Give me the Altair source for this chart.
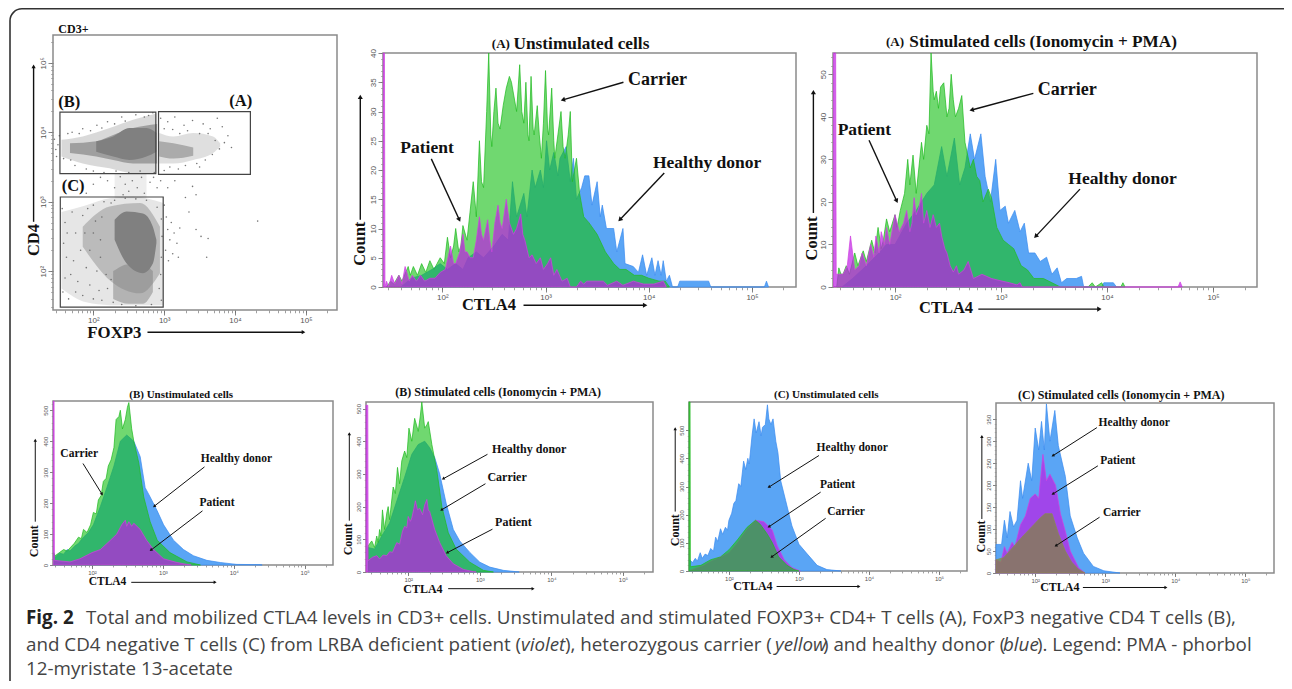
import math
import altair as alt
import pandas as pd

# ---------- values: (log10 CTLA4, count) ----------
A1_CARRIER = [(1.46,0),(1.5,1),(1.53,0.5),(1.58,2),(1.61,1),(1.67,3.5),(1.69,2),(1.72,3.5),(1.76,2),(1.8,4),(1.84,2.5),(1.88,4.5),(1.92,3),(1.95,4),(1.98,5),(2.02,4),(2.05,8.5),(2.08,5),(2.11,7),(2.13,10),(2.16,6),(2.18,7),(2.2,10.5),(2.24,8),(2.27,13),(2.3,18),(2.33,12),(2.36,25),(2.38,18),(2.40,17),(2.43,30),(2.45,40),(2.47,26),(2.48,24),(2.5,30),(2.52,34),(2.54,28),(2.56,27),(2.59,31),(2.62,34),(2.65,36),(2.67,35),(2.69,33),(2.72,30),(2.75,38),(2.77,30),(2.79,28),(2.81,35),(2.83,26),(2.84,25),(2.86,36),(2.88,27),(2.89,26),(2.92,31),(2.94,26),(2.96,22),(2.98,28),(3.0,37),(3.02,27),(3.03,26),(3.06,34),(3.08,25),(3.09,22),(3.12,26),(3.15,30),(3.17,24),(3.19,22),(3.22,26),(3.24,30),(3.26,18),(3.28,20),(3.30,22),(3.33,16),(3.37,12),(3.42,11),(3.5,9),(3.58,6),(3.66,4),(3.72,3),(3.78,3),(3.86,2),(3.93,2),(4.0,1.5),(4.1,1),(4.16,1),(4.2,0)]
A1_HEALTHY = [(1.6,0),(1.7,1.5),(1.8,2),(1.9,3),(1.98,4),(2.05,3),(2.13,4),(2.2,3),(2.25,5),(2.33,6),(2.4,5),(2.5,7),(2.58,9),(2.64,8),(2.68,18),(2.72,12),(2.79,16),(2.82,12),(2.87,20),(2.9,17),(2.95,20),(2.98,17),(3.01,25),(3.04,20),(3.08,23),(3.12,19),(3.14,22),(3.2,24),(3.24,18),(3.27,22),(3.3,15),(3.35,17),(3.38,19),(3.42,19),(3.45,14),(3.5,18),(3.53,12),(3.55,14),(3.59,10),(3.66,10),(3.69,6),(3.75,10),(3.77,4),(3.85,3.5),(3.9,2.5),(3.94,5.5),(3.98,2),(4.03,5),(4.06,2),(4.09,4.5),(4.12,2),(4.14,4.5),(4.17,1),(4.2,2),(4.23,0),(4.28,0),(4.3,1),(4.37,1),(4.48,1),(4.58,1),(4.6,0),(5.12,0),(5.14,1),(5.16,0)]
A1_PATIENT = [(1.43,40),(1.44,40),(1.445,0),(1.46,1),(1.48,0),(1.51,2),(1.54,0.5),(1.58,2),(1.61,0.5),(1.64,3.5),(1.68,1),(1.71,2),(1.75,1),(1.79,2),(1.83,1),(1.88,1.5),(1.93,1.5),(1.98,2.5),(2.03,3),(2.08,7),(2.11,4),(2.13,4),(2.17,6),(2.2,9),(2.22,6),(2.24,6),(2.27,5),(2.3,5),(2.33,8),(2.36,12),(2.38,9),(2.4,8),(2.44,11.5),(2.46,8),(2.48,6),(2.51,11),(2.54,14),(2.56,11),(2.58,10),(2.62,15),(2.65,11),(2.69,9),(2.72,10),(2.76,12.5),(2.78,9),(2.8,8),(2.84,5),(2.87,5.5),(2.91,4),(2.95,5),(2.98,3),(3.02,4),(3.05,5),(3.08,2),(3.11,3),(3.16,1),(3.21,1.5),(3.24,0),(3.3,0),(3.34,1),(3.37,0.5),(3.4,1),(3.5,1),(3.56,1),(3.6,0.3),(3.69,1),(3.75,0.3),(3.85,1),(3.95,0.5),(4.05,0.5),(4.14,1),(4.17,0)]

A2_CARRIER = [(1.45,0),(1.47,4.5),(1.49,3),(1.51,3),(1.54,5),(1.57,3),(1.62,8),(1.65,5),(1.7,8.5),(1.73,6),(1.78,11),(1.81,8),(1.84,14),(1.87,9),(1.89,11),(1.92,16),(1.95,13),(2,17),(2.02,14),(2.05,18),(2.09,22),(2.12,30),(2.14,24),(2.17,31),(2.2,22),(2.25,34),(2.27,30),(2.3,38),(2.32,36),(2.34,55),(2.36,46),(2.37,44),(2.39,46),(2.41,42),(2.43,47),(2.46,48),(2.49,40),(2.51,42),(2.53,50),(2.55,44),(2.57,40),(2.6,42),(2.63,45),(2.66,34),(2.71,28),(2.74,30),(2.77,26),(2.8,25),(2.83,20),(2.88,23),(2.91,21),(2.96,14),(3.02,11),(3.07,10),(3.12,9),(3.19,5),(3.25,4),(3.31,2),(3.4,2),(3.48,1),(3.56,0),(3.82,0),(3.86,1),(3.89,0),(3.95,1),(3.97,0),(4.13,0),(4.15,1),(4.17,0)]
A2_HEALTHY = [(1.5,0),(1.6,2),(1.73,5),(1.85,8),(1.92,10),(2,10),(2.11,15),(2.2,18),(2.3,22),(2.37,24),(2.44,33),(2.49,26),(2.56,35),(2.61,24),(2.66,28),(2.71,36),(2.75,30),(2.81,36),(2.85,26),(2.9,20),(2.95,30),(2.99,18),(3.04,19),(3.07,15),(3.13,18),(3.18,13),(3.22,15),(3.26,8),(3.32,8),(3.37,6),(3.43,7),(3.48,3),(3.53,4.5),(3.57,1),(3.62,2),(3.71,2),(3.76,2.5),(3.78,0),(3.95,0),(3.97,1),(4.06,1),(4.09,0)]
A2_PATIENT = [(1.42,55),(1.44,55),(1.445,3),(1.47,3),(1.51,3),(1.55,5),(1.58,12),(1.62,4),(1.66,5),(1.69,8),(1.73,5),(1.77,10),(1.8,7),(1.82,12),(1.85,8),(1.87,13),(1.9,10),(1.92,14),(1.95,10),(2,17),(2.04,13),(2.08,15),(2.11,18),(2.14,13),(2.16,15),(2.18,21),(2.2,17),(2.23,19),(2.25,22),(2.27,15),(2.3,18),(2.33,14),(2.36,17),(2.39,14),(2.42,15),(2.44,12),(2.47,9),(2.49,8),(2.52,5),(2.55,3.5),(2.58,5),(2.6,3),(2.65,4),(2.69,6),(2.74,2),(2.82,3),(2.91,2),(2.99,1.5),(3.08,1),(3.15,0.5),(3.18,1),(3.2,0),(4.67,0),(4.69,1.2),(4.71,0)]

B1_CARRIER = [(1.46,40),(1.48,30),(1.54,40),(1.6,50),(1.65,45),(1.69,55),(1.75,70),(1.81,90),(1.85,85),(1.88,115),(1.93,105),(1.98,130),(2.02,170),(2.06,165),(2.09,210),(2.13,225),(2.16,270),(2.2,280),(2.23,320),(2.27,340),(2.31,380),(2.34,470),(2.38,480),(2.4,500),(2.43,440),(2.47,470),(2.5,510),(2.52,525),(2.56,440),(2.59,400),(2.66,330),(2.73,220),(2.82,140),(2.92,80),(3.1,40),(3.34,10),(3.53,0)]
B1_HEALTHY = [(1.46,35),(1.48,25),(1.54,38),(1.6,35),(1.65,50),(1.69,45),(1.75,60),(1.81,70),(1.88,90),(1.95,105),(2.02,130),(2.12,190),(2.21,250),(2.31,320),(2.4,400),(2.49,420),(2.59,400),(2.68,350),(2.75,250),(2.82,220),(2.92,175),(3.01,130),(3.15,80),(3.29,50),(3.43,30),(3.62,15),(3.81,8),(4.04,2),(4.37,1),(4.4,0)]
B1_PATIENT = [(1.455,530),(1.465,530),(1.47,15),(1.69,10),(1.83,20),(2.0,40),(2.12,50),(2.26,80),(2.35,100),(2.42,130),(2.47,145),(2.49,125),(2.52,140),(2.56,125),(2.59,135),(2.68,115),(2.77,80),(2.87,50),(3.01,20),(3.2,8),(3.34,2),(3.4,0)]

B2_CARRIER = [(1.44,80),(1.49,95),(1.53,75),(1.56,110),(1.58,90),(1.6,130),(1.62,110),(1.64,190),(1.67,130),(1.7,180),(1.72,200),(1.74,160),(1.79,260),(1.82,240),(1.85,320),(1.88,270),(1.91,340),(1.95,370),(1.98,350),(2.01,440),(2.05,400),(2.09,470),(2.14,430),(2.17,480),(2.19,520),(2.23,440),(2.26,450),(2.28,460),(2.33,390),(2.4,310),(2.47,200),(2.56,120),(2.67,70),(2.86,30),(3.05,5),(3.19,0)]
B2_HEALTHY = [(1.44,75),(1.53,70),(1.63,110),(1.74,150),(1.86,230),(1.95,290),(2.05,360),(2.14,390),(2.23,400),(2.3,380),(2.37,350),(2.44,300),(2.53,210),(2.63,130),(2.72,95),(2.86,60),(3.0,30),(3.14,15),(3.33,5),(3.51,1),(3.55,0)]
B2_PATIENT = [(1.41,510),(1.435,510),(1.44,35),(1.5,45),(1.56,50),(1.6,40),(1.65,52),(1.7,50),(1.74,62),(1.78,60),(1.84,90),(1.88,85),(1.92,125),(1.95,140),(1.98,135),(2,170),(2.03,155),(2.05,165),(2.08,195),(2.1,218),(2.13,190),(2.16,195),(2.2,175),(2.23,205),(2.26,222),(2.28,190),(2.3,185),(2.37,130),(2.44,90),(2.53,50),(2.63,25),(2.77,8),(2.91,1),(2.95,0)]

C1_HEALTHY = [(1.44,40),(1.48,30),(1.52,45),(1.55,35),(1.59,65),(1.62,45),(1.66,60),(1.7,55),(1.74,80),(1.78,70),(1.81,120),(1.84,105),(1.88,150),(1.91,130),(1.95,155),(1.98,145),(2,180),(2.04,205),(2.07,240),(2.1,250),(2.14,310),(2.17,300),(2.21,390),(2.24,360),(2.27,400),(2.29,380),(2.33,480),(2.36,540),(2.39,490),(2.43,530),(2.46,480),(2.48,510),(2.52,520),(2.55,590),(2.57,540),(2.6,520),(2.63,540),(2.67,460),(2.7,420),(2.74,320),(2.81,250),(2.9,160),(3,95),(3.12,60),(3.26,20),(3.4,5),(3.6,0)]
C1_PATIENT = [(1.45,3),(1.64,20),(1.74,35),(1.88,50),(2,65),(2.12,100),(2.26,150),(2.38,180),(2.5,175),(2.62,145),(2.69,90),(2.79,40),(2.9,12),(3.02,0)]
C1_CARRIER = [(1.43,600),(1.445,600),(1.45,15),(1.6,20),(1.74,40),(1.88,50),(2,75),(2.12,110),(2.26,155),(2.38,180),(2.45,165),(2.55,130),(2.62,100),(2.71,50),(2.83,20),(2.93,5),(3,0)]

C2_HEALTHY = [(1.44,65),(1.52,65),(1.56,120),(1.6,80),(1.64,140),(1.69,105),(1.74,120),(1.79,210),(1.82,170),(1.9,250),(1.95,210),(2,330),(2.05,280),(2.09,345),(2.13,280),(2.16,385),(2.21,300),(2.28,370),(2.33,290),(2.43,220),(2.5,130),(2.6,80),(2.69,45),(2.83,15),(2.98,5),(3.21,0)]
C2_PATIENT = [(1.44,30),(1.51,25),(1.56,60),(1.6,45),(1.67,70),(1.71,60),(1.79,110),(1.86,130),(1.93,170),(2,180),(2.05,170),(2.11,270),(2.16,210),(2.21,225),(2.29,200),(2.36,135),(2.43,95),(2.5,50),(2.62,12),(2.71,0)]
C2_CARRIER = [(1.44,30),(1.55,35),(1.69,60),(1.83,85),(1.98,110),(2.07,125),(2.14,135),(2.24,135),(2.33,90),(2.43,50),(2.52,25),(2.62,8),(2.71,0)]

# ---------- FOXP3 / CD4 dot plot: cloud outlines (log10 FOXP3, top and bottom log10 CD4, density) ----------
CLOUDS = [
    ([2.3,2.56,2.75],[3.41,3.41,3.41],[3.05,3.05,3.05],0.14),
    ([1.55,1.85,2.23,2.56,2.89],[3.89,3.94,4.06,4.18,4.27],[3.65,3.55,3.48,3.41,3.41],0.3),
    ([1.67,2.04,2.28,2.56,2.9],[3.84,3.87,3.96,4.06,4.12],[3.7,3.65,3.6,3.55,3.55],0.65),
    ([2.04,2.28,2.51,2.75,2.89],[3.87,3.94,4.06,4.06,3.99],[3.72,3.65,3.60,3.65,3.72],1.0),
    ([2.93,3.13,3.41,3.69,3.79],[3.99,3.94,3.99,3.94,3.84],[3.55,3.55,3.6,3.7,3.79],0.25),
    ([2.93,3.13,3.41],[3.87,3.84,3.78],[3.65,3.62,3.66],0.55),
    ([1.55,1.9,2.23,2.56,2.99],[2.85,2.95,3.05,3.07,2.98],[1.75,1.55,1.51,1.51,1.51],0.2),
    ([1.85,2.23,2.66,2.94],[2.64,2.93,2.98,2.64],[2.35,1.87,1.68,1.97],0.42),
    ([2.28,2.5,2.7,2.84],[2.0,2.1,2.1,2.0],[1.6,1.53,1.53,1.7],0.5),
    ([2.30,2.47,2.7,2.84,2.89],[2.74,2.86,2.83,2.64,2.45],[2.45,2.11,1.97,2.11,2.40],1.0),
]
DOTS = [(3.0,2.95),(3.03,2.78),(3.05,2.6),(3.08,2.45),(3.02,2.3),(3.1,2.7),(3.14,2.55),(3.18,2.4),(3.22,2.62),(3.06,2.15),(3.12,2.25),(3.2,2.2),(3.35,2.85),(3.45,2.6),(3.52,2.5),(3.6,2.2),(3.62,2.47),(4.32,2.72),(3.3,3.06),(3.4,3.22),(3.45,3.1),(3.15,3.3),(3.05,3.2),(2.95,3.3),(2.9,3.2),(2.85,3.35),(2.8,3.28),(2.72,3.12),(2.68,3.35),(2.62,3.2),(2.55,3.3),(2.5,3.15),(2.45,3.25),(2.42,3.1),(2.38,3.36),(2.3,3.2),(2.2,3.3),(2.1,3.35),(2.0,3.25),(1.7,3.3),(1.9,3.12),
(1.45,3.9),(1.47,3.75),(1.5,3.82),(1.48,3.65),(1.52,3.95),(2.95,4.2),(3.05,4.15),(3.15,4.22),(3.28,4.1),(3.4,4.17),(3.55,4.12),(3.65,4.05),(3.75,4.2),(3.82,4.08),(3.9,3.95),(3.85,3.85),(3.95,3.78),(3.5,3.5),(3.2,3.47),(3.0,3.45),(3.58,3.6),(2.6,4.25),(2.72,4.22),(2.4,4.22),(2.2,4.15),(2.05,4.1),(1.85,4.05),(1.7,4.0),
(1.56,2.9),(1.6,2.7),(1.58,2.4),(1.62,2.2),(1.6,1.9),(1.57,1.7),(1.65,1.6),(1.7,2.85),(1.75,2.55),(1.72,2.15),(1.78,1.85),(1.85,1.65),(1.9,2.05),(1.92,2.9),(1.85,2.8),(1.95,1.8),(2.0,1.6),(2.05,2.0),(2.08,1.72),(2.1,2.2),(2.0,2.95),(2.15,3.0),(2.12,1.58),(2.2,1.75),(1.82,2.3),(1.68,1.95),(1.63,2.55),(1.75,1.7),(1.95,2.3),(2.18,1.95),
(1.58,3.62),(1.64,3.98),(1.68,3.6),(1.74,3.52),(1.8,3.98),(1.9,3.47),(1.96,4.02),(2.0,3.44),(2.12,4.06),(2.15,3.42),(2.3,4.12),(2.32,3.44),(2.45,4.16),(2.5,3.42),(2.66,3.44),(2.78,4.24),(2.84,4.28),(2.86,3.42),
(3.0,4.05),(3.08,3.5),(3.12,4.04),(3.22,3.98),(3.3,3.52),(3.33,4.02),(3.46,3.55),(3.5,3.98),(3.62,3.98),(3.68,3.68),(3.72,3.88),(3.78,3.76),
(2.25,2.98),(2.3,3.02),(2.45,3.05),(2.6,3.04),(2.75,3.02),(2.9,2.92),(2.96,2.75),(2.97,2.5),(2.96,2.2),(2.95,1.95),(2.93,1.75),(2.96,1.58),(2.82,1.52),(2.6,1.5),(2.4,1.52),(2.28,1.55),(2.25,1.88),(2.0,2.55),(1.88,2.55),(2.03,2.72),(2.12,2.78),(2.1,2.45)]
GATES = [(1.528,2.882,3.404,4.288),(2.92,4.217,3.394,4.298),(1.533,2.986,1.481,3.067)]

# ---------- caption ----------
CAPTION = [
    ("Fig. 2", 18, 610, "bold", "normal"),
    ("Total and mobilized CTLA4 levels in CD3+ cells. Unstimulated and stimulated FOXP3+ CD4+ T cells (A), FoxP3 negative CD4 T cells (B),", 78, 610, "normal", "normal"),
    ("and CD4 negative T cells (C) from LRBA deficient patient (", 18, 637, "normal", "normal"),
    ("violet", 513, 637, "normal", "italic"),
    ("), heterozygous carrier (", 557, 637, "normal", "normal"),
    ("yellow", 767, 637, "normal", "italic"),
    (") and healthy donor (", 815, 637, "normal", "normal"),
    ("blue", 995, 637, "normal", "italic"),
    ("). Legend: PMA - phorbol", 1029, 637, "normal", "normal"),
    ("12-myristate 13-acetate", 18, 661, "normal", "normal"),
]

W, H = 1276, 673
SERIF = "Liberation Serif"
BLUE, BLUE_L = "#5aa5f5", "#3a8cf0"
GREEN, GREEN_L = "#18c018", "#22bb22"
VIOLET, VIOLET_L = "#be1ee6", "#d040e0"
OLIVE = "#7a9023"
DECADES = "datum.value==100?'10²':datum.value==1000?'10³':datum.value==10000?'10⁴':datum.value==100000?'10⁵':''"
DECADE_TICKS = [100, 1000, 10000, 100000]
LOG_TICKS = [m * 10**p for p in (1, 2, 3, 4, 5) for m in range(1, 10) if 27 <= m * 10**p <= 270000]


class Panel:
    def __init__(self, xr, yr, xe, ydom, ylog=False):
        self.xr, self.yr, self.xe, self.ydom, self.ylog = xr, yr, xe, ydom, ylog
        self.xs = alt.Scale(type="log", domain=[10**xe[0], 10**xe[1]], range=list(xr))
        self.ys = alt.Scale(type="log" if ylog else "linear", domain=list(ydom), range=list(yr), nice=False, zero=False)
        self.layers = []
        self.minor = None

    def yv(self, c):
        return 10**c if self.ylog else c

    def px(self, e):
        return self.xr[0] + (e - self.xe[0]) / (self.xe[1] - self.xe[0]) * (self.xr[1] - self.xr[0])

    def py(self, c):
        if self.ylog:
            lo, hi = math.log10(self.ydom[0]), math.log10(self.ydom[1])
            return self.yr[0] + (c - lo) / (hi - lo) * (self.yr[1] - self.yr[0])
        return self.yr[0] + (c - self.ydom[0]) / (self.ydom[1] - self.ydom[0]) * (self.yr[1] - self.yr[0])

    def X(self, f="x"):
        return alt.X(f"{f}:Q", scale=self.xs)

    def Y(self, f="y"):
        return alt.Y(f"{f}:Q", scale=self.ys, stack=None)

    def frame(self, y_minor, y_major, y_expr=None, lab=8, tl=5):
        x0, x1 = self.xe
        df = pd.DataFrame({"x": [10**x0], "x2": [10**x1], "y": [self.ydom[0]], "y2": [self.ydom[1]]})
        common = dict(title="", grid=False, domain=False, labelFontSize=lab, labelColor="#555555",
                      labelFont="Liberation Sans", labelPadding=1, labelFlush=False, tickWidth=0.8, tickColor="#666666")
        xaxis = alt.Axis(orient="bottom", offset=self.yr[0] - H, values=DECADE_TICKS, labelExpr=DECADES, tickSize=tl, **common)
        ykw = {"labelExpr": y_expr} if y_expr else {}
        yaxis = alt.Axis(orient="left", offset=-self.xr[0], values=y_major, tickSize=tl, labelAngle=270,
                         labelAlign="center", labelBaseline="bottom", **ykw, **common)
        self.layers.append(alt.Chart(df).mark_rect(fill=None, stroke="#8a8a8a", strokeWidth=1.5).encode(
            x=alt.X("x:Q", scale=self.xs, axis=xaxis), x2="x2:Q",
            y=alt.Y("y:Q", scale=self.ys, axis=yaxis), y2="y2:Q"))
        # second, label-free axis pair for the minor ticks
        mx = alt.Axis(orient="bottom", offset=self.yr[0] - H, values=LOG_TICKS, labels=False, title="", grid=False,
                      domain=False, tickSize=tl * 0.55, tickWidth=0.7, tickColor="#777777")
        my = alt.Axis(orient="left", offset=-self.xr[0], values=y_minor, labels=False, title="", grid=False,
                      domain=False, tickSize=tl * 0.5, tickWidth=0.6, tickColor="#888888")
        self.minor = alt.Chart(df).mark_rect(fill=None, stroke=None, opacity=0).encode(
            x=alt.X("x:Q", scale=self.xs, axis=mx), x2="x2:Q",
            y=alt.Y("y:Q", scale=self.ys, axis=my), y2="y2:Q")

    def area(self, pairs, fill, line, opacity):
        df = pd.DataFrame([{"x": 10**e, "y": c} for e, c in pairs])
        self.layers.append(alt.Chart(df).mark_area(
            fill=fill, fillOpacity=opacity, stroke=line, strokeWidth=0.8, strokeOpacity=0.9,
            interpolate="linear", clip=True).encode(x=self.X(), y=self.Y()))

    def text(self, s, e, c, size, align="left", angle=0):
        df = pd.DataFrame({"x": [10**e], "y": [self.yv(c)], "t": [s]})
        self.layers.append(alt.Chart(df).mark_text(
            font=SERIF, fontWeight="bold", fontSize=size, color="#111111", align=align, baseline="middle", angle=angle
        ).encode(x=self.X(), y=self.Y(), text="t:N"))

    def arrow(self, e0, c0, e1, c1, head=26, width=1.4):
        df = pd.DataFrame({"x": [10**e0], "x2": [10**e1], "y": [self.yv(c0)], "y2": [self.yv(c1)]})
        self.layers.append(alt.Chart(df).mark_rule(color="#111111", strokeWidth=width).encode(
            x=self.X(), x2="x2:Q", y=self.Y(), y2="y2:Q"))
        dx, dy = self.px(e1) - self.px(e0), self.py(c1) - self.py(c0)
        ang = math.degrees(math.atan2(dx, -dy)) % 360
        df2 = pd.DataFrame({"x": [10**e1], "y": [self.yv(c1)]})
        self.layers.append(alt.Chart(df2).mark_point(
            shape="triangle-up", filled=True, color="#111111", size=head, angle=ang, opacity=1).encode(
            x=self.X(), y=self.Y()))

    def charts(self):
        return [self.minor, alt.layer(*self.layers)]


def count_axis(step, major, top):
    minor = [i * step for i in range(int(top / step) + 1)]
    return minor, [v for v in minor if v % major == 0]


# ---------- page furniture ----------
PX = alt.Scale(domain=[0, W], range=[0, W])
PY = alt.Scale(domain=[0, H], range=[0, H])
page_frame = alt.Chart(pd.DataFrame({"x": [2], "x2": [1290], "y": [0.8], "y2": [690]})).mark_rect(
    fill=None, stroke="#333333", strokeWidth=1.6, cornerRadius=12).encode(
    x=alt.X("x:Q", scale=PX, axis=None), x2="x2:Q", y=alt.Y("y:Q", scale=PY, axis=None), y2="y2:Q")
cap_layers = []
for s, x, y, w, st in CAPTION:
    cap_layers.append(alt.Chart(pd.DataFrame({"x": [x], "y": [y], "t": [s]})).mark_text(
        font="Open Sans", fontSize=18.8, fontWeight=w, fontStyle=st, color="#222222" if w == "bold" else "#444444",
        align="left", baseline="middle").encode(
        x=alt.X("x:Q", scale=PX, axis=None), y=alt.Y("y:Q", scale=PY, axis=None), text="t:N"))
page = alt.layer(page_frame, *cap_layers)

# ---------- dot plot ----------
sc = Panel((45, 329), (302, 27), (1.43, 5.44), (10**1.44, 10**5.40), ylog=True)
SC_Y = [m * 10**p for p in (1, 2, 3, 4, 5) for m in range(1, 10) if 28 <= m * 10**p <= 250000]
sc.frame(SC_Y, DECADE_TICKS, DECADES, lab=8, tl=5)
for xs, tops, bots, op in CLOUDS:
    df = pd.DataFrame({"x": [10**v for v in xs], "y": [10**v for v in tops], "y2": [10**v for v in bots]})
    sc.layers.append(alt.Chart(df).mark_area(fill="#808080", fillOpacity=op, interpolate="monotone").encode(
        x=sc.X(), y=sc.Y(), y2="y2:Q"))
sc.layers.append(alt.Chart(pd.DataFrame({"x": [10**a for a, b in DOTS], "y": [10**b for a, b in DOTS]})).mark_circle(
    color="#666666", size=2.5, opacity=0.9).encode(x=sc.X(), y=sc.Y()))
for g in GATES:
    df = pd.DataFrame({"x": [10**g[0]], "x2": [10**g[1]], "y": [10**g[2]], "y2": [10**g[3]]})
    sc.layers.append(alt.Chart(df).mark_rect(fill=None, stroke="#444444", strokeWidth=1.2).encode(
        x=sc.X(), x2="x2:Q", y=sc.Y(), y2="y2:Q"))
sc.text("CD3+", 1.505, 5.486, 12)
sc.text("(B)", 1.505, 4.44, 16.5)
sc.text("(A)", 3.92, 4.45, 16.5)
sc.text("(C)", 1.552, 3.226, 16.5)
sc.text("FOXP3", 1.915, 1.115, 16.8)
sc.text("CD4", 1.16, 2.447, 16.5, align="center", angle=270)
sc.arrow(2.764, 1.12, 4.967, 1.12, head=18)
sc.arrow(1.156, 2.71, 1.156, 4.947, head=18)

# ---------- histograms ----------
a1 = Panel((375, 788), (279, 45), (1.426, 5.426), (0, 40))
a1.frame(*count_axis(1, 5, 40), lab=8, tl=5)
a1.area(A1_HEALTHY, BLUE, BLUE_L, 1)
a1.area(A1_CARRIER, GREEN, GREEN_L, 0.62)
a1.area(A1_PATIENT, VIOLET, VIOLET_L, 0.7)
a1.text("(A)", 2.48, 41.5, 13)
a1.text("Unstimulated cells", 2.69, 41.5, 17.3)
a1.text("Carrier", 3.80, 35.4, 18)
a1.arrow(3.755, 35, 3.168, 32)
a1.text("Patient", 1.594, 23.7, 17.5)
a1.arrow(1.894, 21.9, 2.165, 11.5)
a1.text("Healthy donor", 4.04, 21.2, 17.5)
a1.arrow(4.15, 19.5, 3.72, 11.5)
a1.text("CTLA4", 2.19, -3.0, 16.5)
a1.arrow(2.787, -3.13, 3.965, -3.13)
a1.text("Count", 1.206, 7.4, 16.5, align="center", angle=270)
a1.arrow(1.206, 11.5, 1.206, 32.5)

a2 = Panel((825, 1249), (279, 45), (1.415, 5.415), (0, 55))
a2.frame(*count_axis(2, 10, 54), lab=8, tl=5)
a2.area(A2_HEALTHY, BLUE, BLUE_L, 1)
a2.area(A2_CARRIER, GREEN, GREEN_L, 0.62)
a2.area(A2_PATIENT, VIOLET, VIOLET_L, 0.7)
a2.text("(A)", 1.915, 57.5, 13)
a2.text("Stimulated cells (Ionomycin + PMA)", 2.135, 57.5, 17.2)
a2.text("Carrier", 3.346, 46.3, 18)
a2.arrow(3.305, 45.5, 2.723, 41.6)
a2.text("Patient", 1.459, 37, 17.5)
a2.arrow(1.755, 34.5, 2.016, 20.2)
a2.text("Healthy donor", 3.635, 25.4, 17.5)
a2.arrow(3.745, 23, 3.327, 11.9)
a2.text("CTLA4", 2.226, -5.0, 16.5)
a2.arrow(2.786, -5.2, 3.928, -5.2)
a2.text("Count", 1.214, 11.4, 16.5, align="center", angle=270)
a2.arrow(1.23, 17.4, 1.23, 45.8)

b1 = Panel((45, 325), (557, 393), (1.45, 5.40), (0, 530))
b1.frame(*count_axis(20, 100, 520), lab=6, tl=3.5)
b1.area(B1_HEALTHY, BLUE, BLUE_L, 1)
b1.area(B1_CARRIER, GREEN, GREEN_L, 0.62)
b1.area(B1_PATIENT, VIOLET, VIOLET_L, 0.7)
b1.text("(B) Unstimulated cells", 3.258, 548, 11, align="center")
b1.text("Carrier", 1.554, 358, 11.5)
b1.arrow(1.873, 328, 2.141, 229, head=12, width=1)
b1.text("Healthy donor", 3.535, 344, 11.5)
b1.arrow(3.587, 317, 2.878, 190, head=12, width=1)
b1.text("Patient", 3.516, 201, 11.5)
b1.arrow(3.559, 175, 2.831, 48, head=12, width=1)
b1.text("CTLA4", 1.953, -56, 11.5)
b1.arrow(2.554, -56, 3.737, -56, head=12, width=1)
b1.text("Count", 1.188, 77, 12, align="center", angle=270)
b1.arrow(1.2, 140, 1.2, 403, head=12, width=1)

b2 = Panel((358, 645), (564, 394), (1.41, 5.42), (0, 520))
b2.frame(*count_axis(20, 100, 500), lab=6, tl=3.5)
b2.area(B2_HEALTHY, BLUE, BLUE_L, 1)
b2.area(B2_CARRIER, GREEN, GREEN_L, 0.62)
b2.area(B2_PATIENT, VIOLET, VIOLET_L, 0.7)
b2.text("(B) Stimulated cells (Ionomycin + PMA)", 3.256, 551, 12, align="center")
b2.text("Healthy donor", 3.172, 377, 12)
b2.arrow(3.107, 360, 2.488, 285, head=12, width=1)
b2.text("Carrier", 3.107, 290, 12)
b2.arrow(3.079, 270, 2.465, 190, head=12, width=1)
b2.text("Patient", 3.214, 152, 12)
b2.arrow(3.177, 131, 2.544, 59, head=12, width=1)
b2.text("CTLA4", 1.93, -51, 12)
b2.arrow(2.558, -51, 3.744, -51, head=12, width=1)
b2.text("Count", 1.163, 100, 12, align="center", angle=270)
b2.arrow(1.177, 157, 1.177, 423, head=12, width=1)

c1 = Panel((681, 959), (563, 394), (1.43, 5.40), (0, 600))
c1.frame(*count_axis(20, 100, 500), lab=6, tl=3.5)
c1.area(C1_HEALTHY, BLUE, BLUE_L, 1)
c1.area(C1_PATIENT, VIOLET, VIOLET_L, 0.7)
c1.area(C1_CARRIER, GREEN, GREEN_L, 0.62)
c1.text("(C) Unstimulated cells", 3.39, 625, 11, align="center")
c1.text("Healthy donor", 3.252, 435, 11.5)
c1.arrow(3.286, 410, 2.571, 298, head=12, width=1)
c1.text("Patient", 3.3, 306, 11.5)
c1.arrow(3.31, 280, 2.571, 157, head=12, width=1)
c1.text("Carrier", 3.405, 210, 11.5)
c1.arrow(3.381, 187, 2.61, 50, head=12, width=1)
c1.text("CTLA4", 2.062, -55, 12)
c1.arrow(2.681, -55, 3.857, -55, head=12, width=1)
c1.text("Count", 1.224, 145, 12, align="center", angle=270)
c1.arrow(1.233, 211, 1.233, 505, head=12, width=1)

c2 = Panel((988, 1266), (565, 395), (1.44, 5.41), (0, 387))
c2.frame(*count_axis(10, 50, 350), lab=6, tl=3.5)
c2.area(C2_HEALTHY, BLUE, BLUE_L, 1)
c2.area(C2_PATIENT, VIOLET, VIOLET_L, 0.7)
c2.area(C2_CARRIER, OLIVE, "#8a8a50", 0.62)
c2.text("(C) Stimulated cells (Ionomycin + PMA)", 3.229, 405, 12, align="center")
c2.text("Healthy donor", 2.905, 341, 11.5)
c2.arrow(2.881, 331, 2.252, 267, head=12, width=1)
c2.text("Patient", 2.929, 255, 11.5)
c2.arrow(2.895, 244, 2.252, 180, head=12, width=1)
c2.text("Carrier", 2.967, 136, 11.5)
c2.arrow(2.919, 127, 2.295, 62, head=12, width=1)
c2.text("CTLA4", 2.071, -33, 12)
c2.arrow(2.681, -33, 3.867, -33, head=12, width=1)
c2.text("Count", 1.224, 83, 12, align="center", angle=270)
c2.arrow(1.238, 123, 1.238, 311, head=12, width=1)

parts = [page]
for p in (sc, a1, a2, b1, b2, c1, c2):
    parts.extend(p.charts())

chart = alt.layer(*parts).resolve_scale(
    x="independent", y="independent"
).properties(width=W, height=H, padding=0, autosize="none", background="white").configure_view(stroke=None)

chart.save("out.html", embed_options={"renderer": "svg", "actions": False})
